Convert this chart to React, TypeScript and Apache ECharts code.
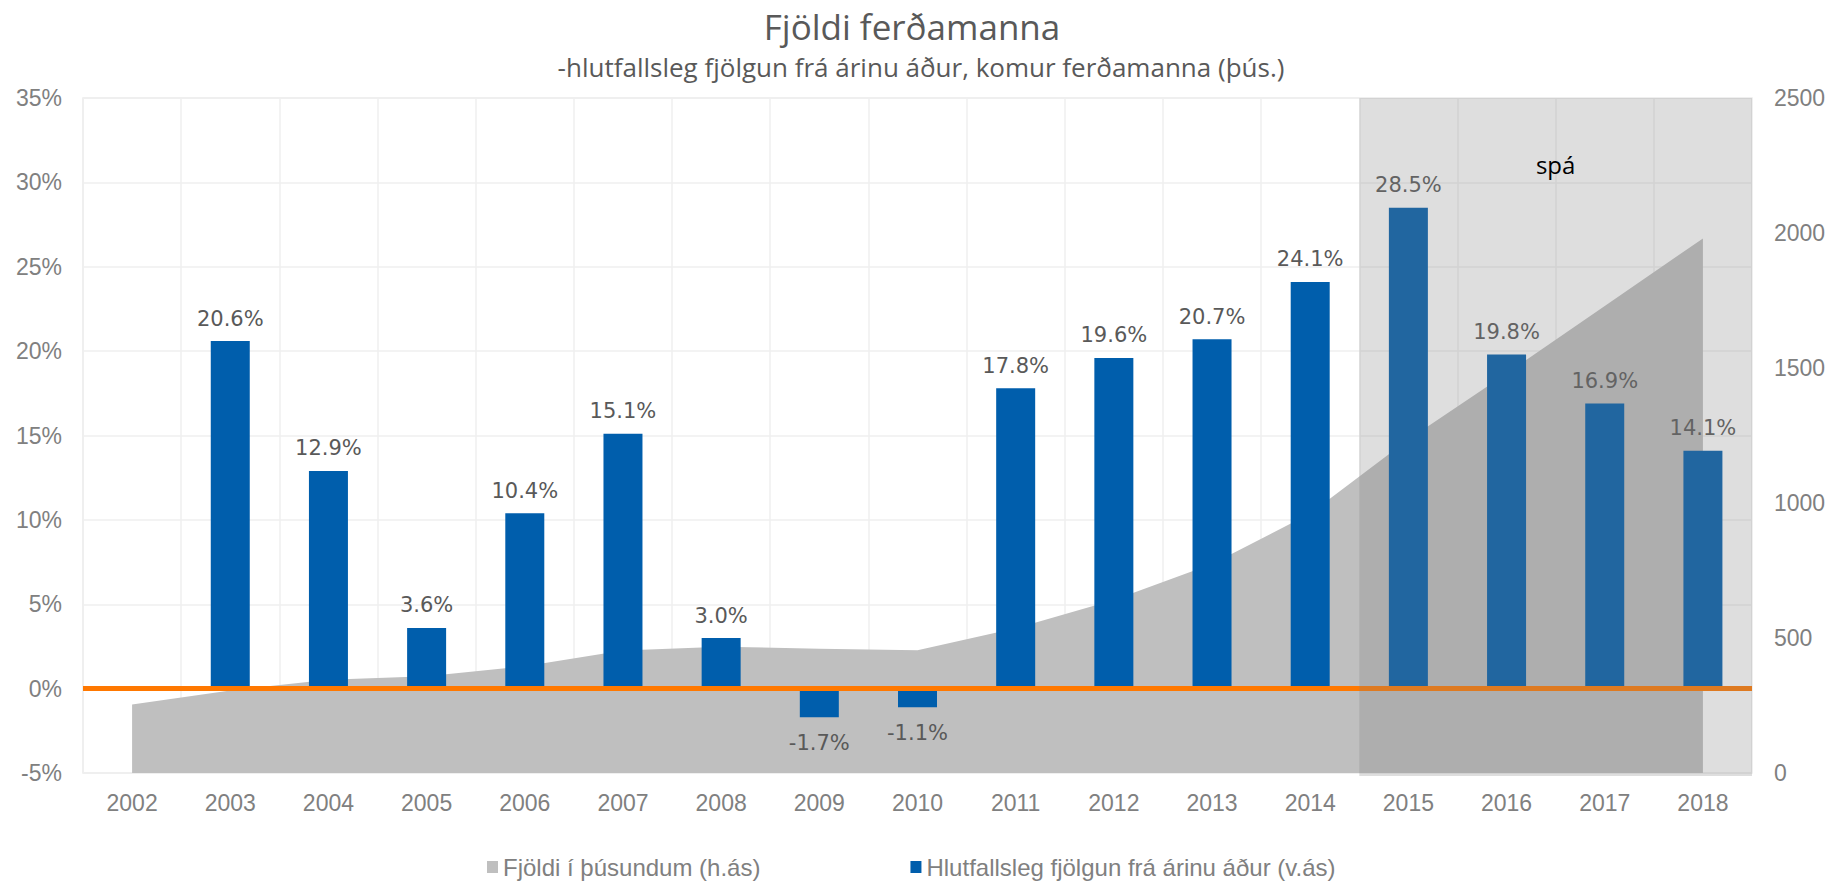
import React, { useEffect, useRef } from "react";
import * as echarts from "echarts";

const years = ["2002","2003","2004","2005","2006","2007","2008","2009","2010","2011","2012","2013","2014","2015","2016","2017","2018"];
const growthPct: (number | null)[] = [null, 20.6, 12.9, 3.6, 10.4, 15.1, 3.0, -1.7, -1.1, 17.8, 19.6, 20.7, 24.1, 28.5, 19.8, 16.9, 14.1];
const visitorsThous = [254, 306, 345, 358, 395, 454, 468, 460, 455, 536, 641, 774, 961, 1235, 1480, 1730, 1980];
const forecastYears = ["2015", "2016", "2017", "2018"];

const titleText = "Fjöldi ferðamanna";
const subtitleText = "-hlutfallsleg fjölgun frá árinu áður, komur ferðamanna (þús.)";
const areaName = "Fjöldi í þúsundum (h.ás)";
const barName = "Hlutfallsleg fjölgun frá árinu áður (v.ás)";
const forecastLabel = "spá";

export default function App() {
  const ref = useRef<HTMLDivElement>(null);
  useEffect(() => {
    document.body.style.margin = "0";
    if (!ref.current) return;
    const chart = echarts.init(ref.current, null, { renderer: "svg" });
    const axisFont = "Liberation Sans, Arial, sans-serif";
    const option: any = {
      animation: false,
      backgroundColor: "#ffffff",
      grid: {
        left: 83, right: 95, top: 98, bottom: 111,
        show: true, borderColor: "#ececec", borderWidth: 1.5, backgroundColor: "transparent",
      },
      legend: {
        left: 482, top: 850, itemWidth: 11, itemHeight: 12, itemGap: 150,
        textStyle: { fontFamily: axisFont, fontSize: 24, color: "#808080" },
        data: [{ name: areaName, icon: "rect" }, { name: barName, icon: "rect" }],
      },
      xAxis: {
        type: "category",
        data: years,
        boundaryGap: true,
        axisLine: { show: false },
        axisTick: { show: false },
        splitLine: { show: true, lineStyle: { color: "#efefef", width: 1.5 } },
        axisLabel: { fontFamily: axisFont, fontSize: 23, color: "#808080", margin: 18 },
      },
      yAxis: [
        {
          type: "value", min: -5, max: 35, interval: 5,
          axisLine: { show: false }, axisTick: { show: false },
          splitLine: { show: true, lineStyle: { color: "#efefef", width: 1.5 } },
          axisLabel: { formatter: (v: number) => v + "%", fontFamily: axisFont, fontSize: 23, color: "#808080", margin: 21 },
        },
        {
          type: "value", min: 0, max: 2500, interval: 500,
          axisLine: { show: false }, axisTick: { show: false },
          splitLine: { show: false },
          axisLabel: { formatter: (v: number) => String(v), fontFamily: axisFont, fontSize: 23, color: "#808080", margin: 22 },
        },
      ],
      series: [
        {
          name: areaName,
          type: "line",
          yAxisIndex: 1,
          data: visitorsThous,
          symbol: "none",
          lineStyle: { width: 0 },
          itemStyle: { color: "#bfbfbf" },
          areaStyle: { color: "#bfbfbf", opacity: 1 },
          z: 1,
        },
        {
          name: barName,
          type: "bar",
          yAxisIndex: 0,
          barWidth: 39,
          itemStyle: { color: "#005eac" },
          data: growthPct.map((v) =>
            v == null
              ? "-"
              : { value: v, label: { position: v < 0 ? "bottom" : "top", distance: v < 0 ? 15 : 12 } }
          ),
          label: {
            show: true,
            distance: 12,
            fontFamily: "DejaVu Sans, Verdana, sans-serif",
            fontSize: 21,
            color: "#595959",
            formatter: (p: any) => Number(p.value).toFixed(1) + "%",
          },
          markLine: {
            silent: true,
            symbol: "none",
            label: { show: false },
            lineStyle: { color: "#ff7800", width: 5, type: "solid" },
            data: [{ yAxis: 0 }],
          },
          z: 2,
        },
      ],
    };
    chart.setOption(option);

    const first = forecastYears[0];
    const last = forecastYears[forecastYears.length - 1];
    const x0 = chart.convertToPixel({ xAxisIndex: 0 }, first);
    const x1 = chart.convertToPixel({ xAxisIndex: 0 }, last);
    const xPrev = chart.convertToPixel({ xAxisIndex: 0 }, years[years.indexOf(first) - 1]);
    const band = x0 - xPrev;
    const left = x0 - band / 2;
    const right = x1 + band / 2;
    const top = chart.convertToPixel({ yAxisIndex: 0 }, 35);
    const bottom = chart.convertToPixel({ yAxisIndex: 0 }, -5) + 3;

    chart.setOption({
      graphic: [
        {
          type: "rect", z: 100, silent: true,
          shape: { x: left, y: top, width: right - left, height: bottom - top },
          style: { fill: "rgba(128,128,128,0.26)" },
        },
        {
          type: "text", z: 101, x: (left + right) / 2, y: top + 66,
          style: { text: forecastLabel, fill: "#000000", font: "24px 'Open Sans', sans-serif", align: "center", verticalAlign: "middle" },
        },
        {
          type: "text", z: 101, x: 912, y: 26,
          style: { text: titleText, fill: "#595959", font: "35px 'Open Sans', sans-serif", align: "center", verticalAlign: "middle" },
        },
        {
          type: "text", z: 101, x: 921, y: 67,
          style: { text: subtitleText, fill: "#595959", font: "26px 'Open Sans', sans-serif", align: "center", verticalAlign: "middle" },
        },
      ],
    });

    return () => chart.dispose();
  }, []);
  return <div ref={ref} style={{ width: 1847, height: 884 }} />;
}
